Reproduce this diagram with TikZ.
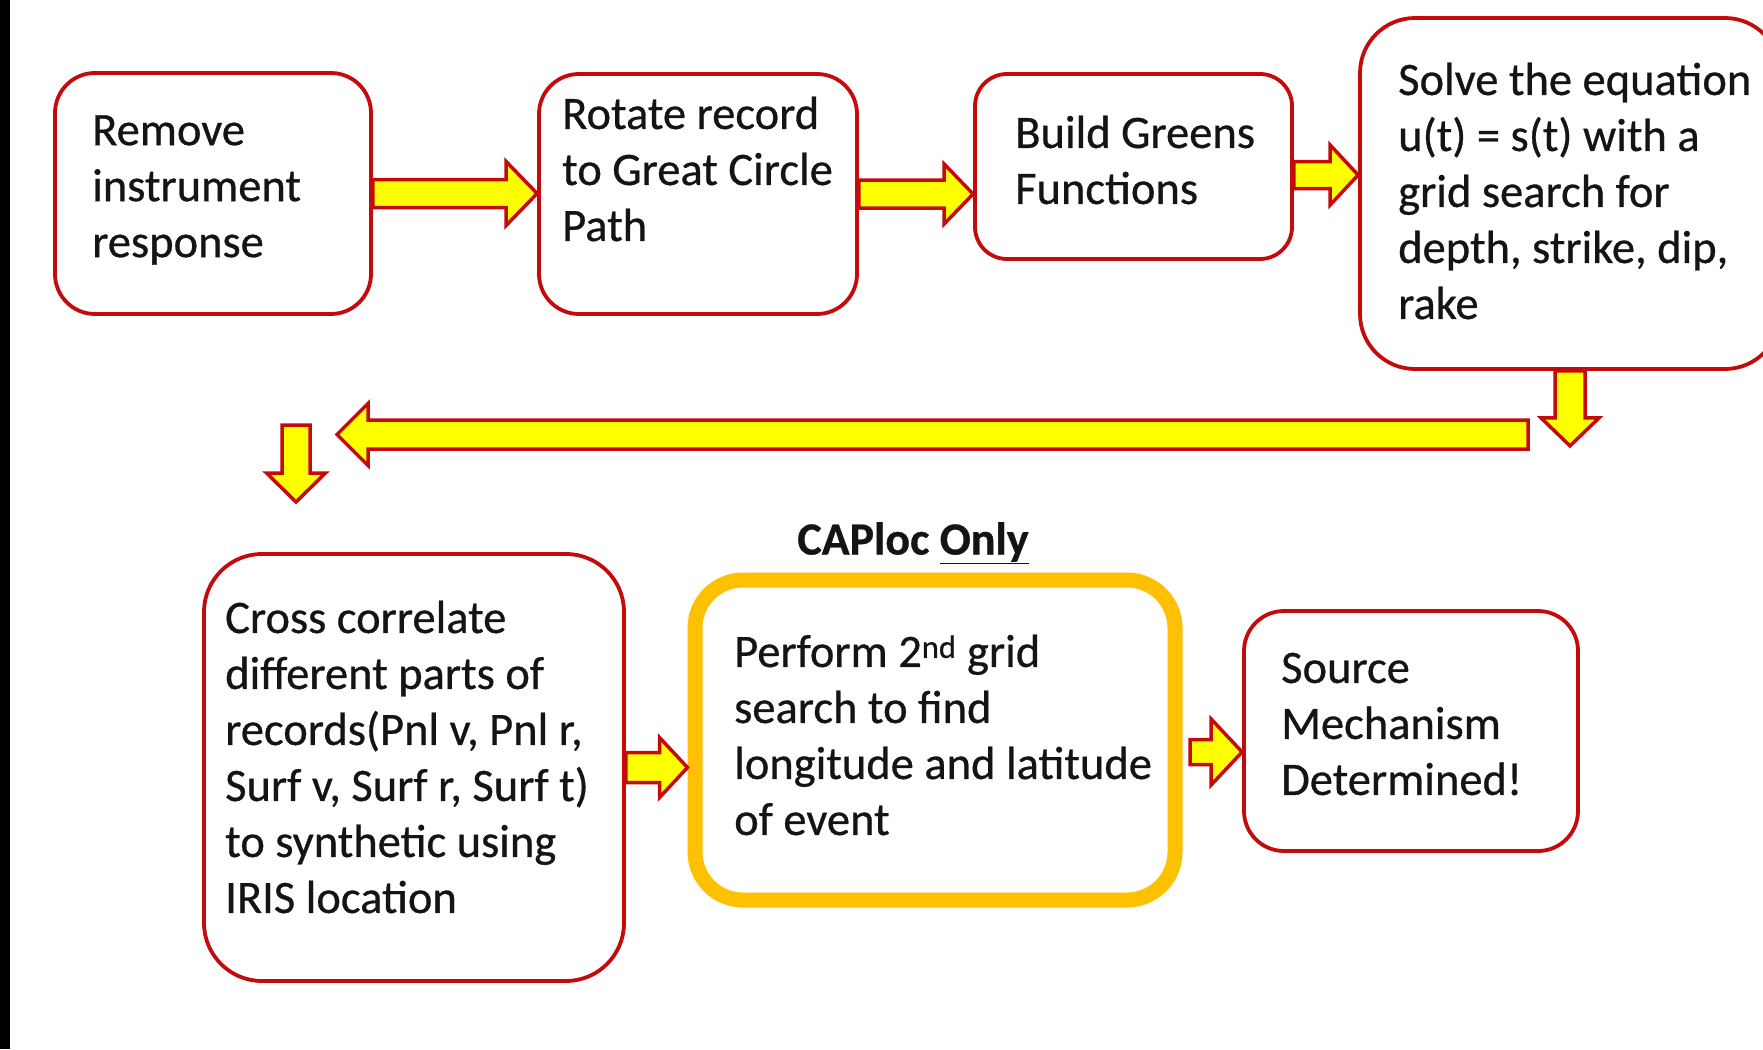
\documentclass[tikz,border=0pt]{standalone}
\usepackage{fontspec}
\setmainfont{Carlito}[FakeBold=0.6]
\usetikzlibrary{calc}

\definecolor{boxred}{RGB}{196,10,10}
\definecolor{arrowfill}{RGB}{255,255,0}
\definecolor{capgold}{RGB}{255,192,0}
\definecolor{ink}{RGB}{20,20,20}

\tikzset{
  stepbox/.style={draw=boxred, line width=3.8pt, fill=white, inner sep=0pt, rounded corners=#1},
  capbox/.style={draw=capgold, line width=15pt, fill=white, inner sep=0pt, rounded corners=#1},
  label text/.style={align=left, inner sep=0pt, anchor=west, text=ink,
                     font=\fontsize{46.5}{56}\selectfont},
  blockarrow/.style={draw=boxred, fill=arrowfill, line width=3.5pt, line join=miter},
}

% block arrows: tail, tip, half shaft width, half head width, head length
\newcommand\blockright[5]{%
  \filldraw[blockarrow] let \p1=(#1), \p2=(#2) in
    (\x1,\y1+#3) -- (\x2-#5,\y1+#3) -- (\x2-#5,\y1+#4) -- (\x2,\y1)
    -- (\x2-#5,\y1-#4) -- (\x2-#5,\y1-#3) -- (\x1,\y1-#3) -- cycle;}
\newcommand\blockleft[5]{%
  \filldraw[blockarrow] let \p1=(#1), \p2=(#2) in
    (\x1,\y1+#3) -- (\x2+#5,\y1+#3) -- (\x2+#5,\y1+#4) -- (\x2,\y1)
    -- (\x2+#5,\y1-#4) -- (\x2+#5,\y1-#3) -- (\x1,\y1-#3) -- cycle;}
\newcommand\blockdown[5]{%
  \filldraw[blockarrow] let \p1=(#1), \p2=(#2) in
    (\x1-#3,\y1) -- (\x1-#3,\y2+#5) -- (\x1-#4,\y2+#5) -- (\x1,\y2)
    -- (\x1+#4,\y2+#5) -- (\x1+#3,\y2+#5) -- (\x1+#3,\y1) -- cycle;}

\begin{document}
\begin{tikzpicture}[x=1pt, y=-1pt]
  \useasboundingbox (0,0) rectangle (1763,1049);
  \fill[white] (0,0) rectangle (1763,1049);
  \fill[black] (0,0) rectangle (10,1049);

  % process boxes
  \node[stepbox=40pt, minimum width=316pt, minimum height=241pt] (b1) at (213,193.5) {};
  \node[stepbox=40pt, minimum width=318pt, minimum height=240pt] (b2) at (698,194) {};
  \node[stepbox=32pt, minimum width=317pt, minimum height=185pt] (b3) at (1133.5,166.5) {};
  \node[stepbox=55pt, minimum width=420pt, minimum height=351pt] (b4) at (1570,193.5) {};
  \node[stepbox=58pt, minimum width=420pt, minimum height=427pt] (b5) at (414,767.5) {};
  \node[capbox=48pt, minimum width=480pt, minimum height=320pt] (b6) at (935,740) {};
  \node[stepbox=40pt, minimum width=334pt, minimum height=240pt] (b7) at (1411,731) {};

  % box texts
  \node[label text] (t1) at (92,190) {Remove\\instrument\\response};
  \node[label text] (t2) at (562,169) {Rotate record\\to Great Circle\\Path};
  \node[label text] (t3) at (1015,160) {Build Greens\\Functions};
  \node[label text] (t4) at (1398,191) {Solve the equation\\u(t) = s(t) with a\\grid search for\\depth, strike, dip,\\rake};
  \node[label text] (t5) at (225,757) {Cross correlate\\different parts of\\records(Pnl v, Pnl r,\\Surf v, Surf r, Surf t)\\to synthetic using\\IRIS location};
  \node[label text] (t6) at (734,735) {Perform 2\textsuperscript{nd} grid\\search to find\\longitude and latitude\\of event};
  \node[label text] (t7) at (1281,724) {Source\\Mechanism\\Determined!};
  \node[text=ink, inner sep=0pt, font=\fontsize{46}{56}\selectfont\bfseries] (caploc) at (913,543) {CAPloc \underline{Only}};

  % free ends of the return path
  \coordinate (returnR) at (1528,434.5);
  \coordinate (returnL) at (337,434.5);
  \coordinate (entryTop) at (296,425);
  \coordinate (entryTip) at (296,502);
  \coordinate (dropTip) at ($(b4.south)+(0,75)$);

  % connectors
  \blockright{b1.east}{b2.west}{14pt}{32pt}{31pt}
  \blockright{b2.east}{b3.west}{14pt}{30pt}{29pt}
  \blockright{$(b3.east)+(0,8.5)$}{b4.west}{13.5pt}{30pt}{28pt}
  \blockdown{b4.south}{dropTip}{15pt}{29pt}{28pt}
  \blockleft{returnR}{returnL}{14.5pt}{31pt}{31pt}
  \blockdown{entryTop}{entryTip}{14pt}{29.5pt}{29pt}
  \blockright{b5.east}{b6.west}{15pt}{30pt}{28pt}
  \blockright{$(b6.east)+(7.5,12)$}{b7.west}{12.5pt}{33pt}{31pt}
\end{tikzpicture}
\end{document}
